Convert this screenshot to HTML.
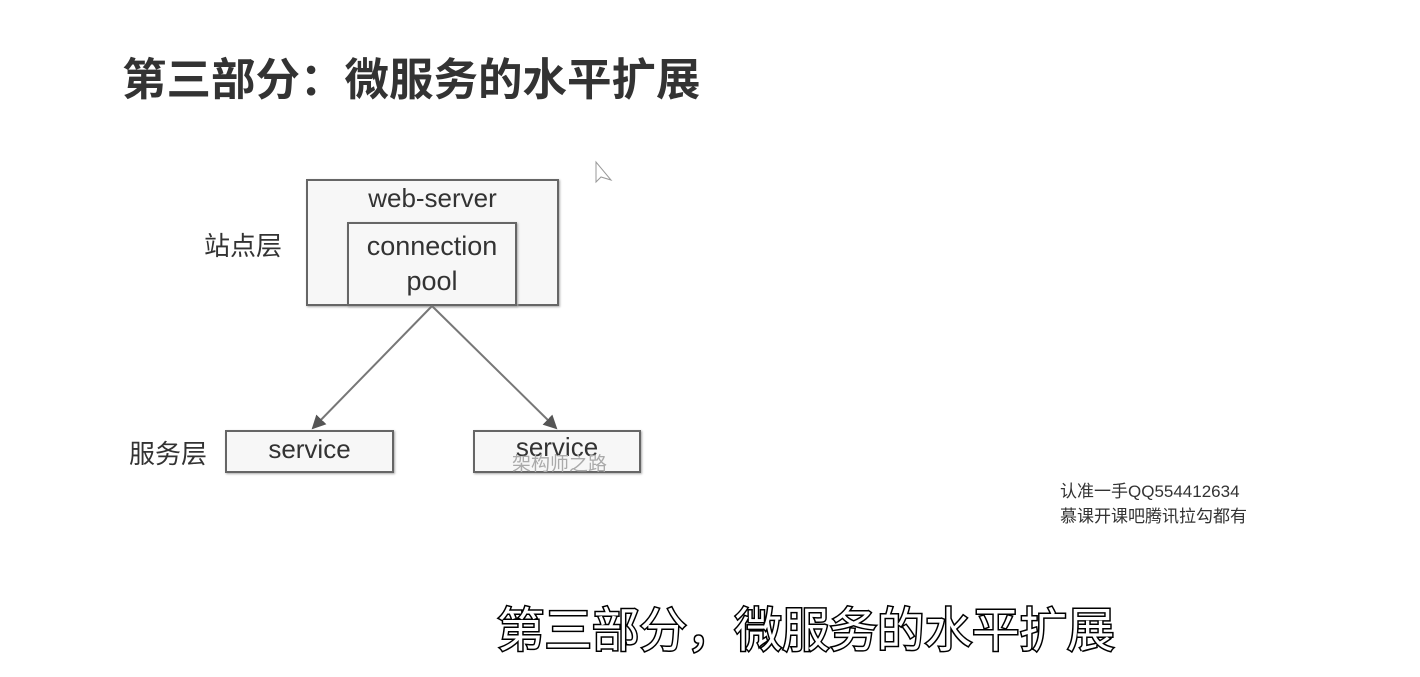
<!DOCTYPE html>
<html><head><meta charset="utf-8"><style>
body{margin:0;width:1420px;height:677px;background:#fff;position:relative;overflow:hidden;font-family:"Liberation Sans","Noto Sans CJK SC",sans-serif;}
.a{position:absolute;white-space:nowrap;}
.box{position:absolute;border:2px solid #666;background:#f7f7f7;box-sizing:border-box;box-shadow:1px 1px 2px #aaa;}
</style></head><body>
<div class="a" style="left:122px;top:43px;font-size:44.5px;font-weight:bold;color:#333;">第三部分：微服务的水平扩展</div>
<div class="box" style="left:306px;top:179px;width:253px;height:127px;"></div>
<div class="a" style="left:306px;width:253px;text-align:center;top:183px;font-size:26px;color:#333;">web-server</div>
<div class="box" style="left:347px;top:222px;width:170px;height:84px;"></div>
<div class="a" style="left:347px;width:170px;text-align:center;top:229px;font-size:27px;line-height:35px;color:#333;">connection<br>pool</div>
<div class="a" style="left:204px;top:226px;font-size:26px;color:#333;">站点层</div>
<div class="a" style="left:129px;top:434px;font-size:26px;color:#333;">服务层</div>
<div class="box" style="left:225px;top:430px;width:169px;height:43px;"></div>
<div class="a" style="left:225px;width:169px;text-align:center;top:434px;font-size:26px;color:#333;">service</div>
<div class="box" style="left:473px;top:430px;width:168px;height:43px;"></div>
<div class="a" style="left:473px;width:168px;text-align:center;top:432px;font-size:26px;color:#333;">service</div>
<div class="a" style="left:512px;top:449px;font-size:19px;color:#aaa;">架构师之路</div>
<svg class="a" style="left:0;top:0" width="1420" height="677">
<defs><marker id="m" markerWidth="14" markerHeight="14" refX="12" refY="7" orient="auto" markerUnits="userSpaceOnUse"><path d="M0,0 L14,7 L0,14 z" fill="#555"/></marker></defs>
<line x1="432" y1="306" x2="313" y2="428" stroke="#777" stroke-width="2" marker-end="url(#m)"/>
<line x1="432" y1="306" x2="556" y2="428" stroke="#777" stroke-width="2" marker-end="url(#m)"/>
<path d="M596,162 L596,182 L601,177 L611,180 Z" fill="#fff" stroke="#999" stroke-width="1"/>
</svg>
<div class="a" style="left:1060px;top:479px;font-size:17px;line-height:25px;color:#333;">认准一手QQ554412634<br>慕课开课吧腾讯拉勾都有</div>
<div class="a" style="left:497px;top:592px;font-size:47.5px;color:#fff;-webkit-text-stroke:3px #000;paint-order:stroke fill;">第三部分，微服务的水平扩展</div>
</body></html>
